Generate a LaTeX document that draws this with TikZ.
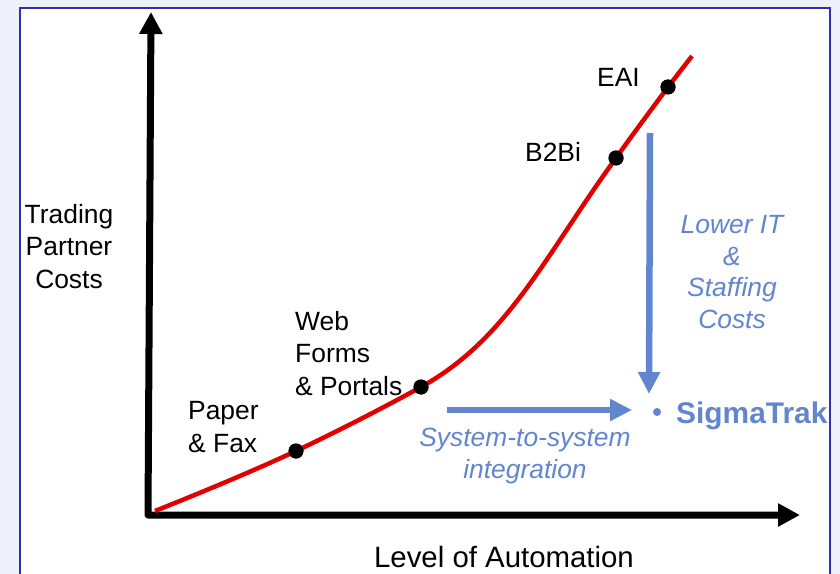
\documentclass[tikz,border=0pt]{standalone}
\usepackage{fontspec}
\setmainfont{Liberation Sans}
\usetikzlibrary{arrows.meta}
\definecolor{sigblue}{RGB}{98,134,206}
\definecolor{framebg}{RGB}{238,241,249}
\definecolor{frameblue}{RGB}{48,48,176}
\definecolor{curvered}{RGB}{224,0,0}
\begin{document}
\begin{tikzpicture}[x=1bp,y=-1bp,
  lbl/.style={font=\fontsize{26.5}{32.5}\selectfont, inner sep=0pt, text=black},
  bluelbl/.style={font=\fontsize{26.5}{31.5}\selectfont\itshape, inner sep=0pt, text=sigblue, align=center},
  dot/.style={circle, fill=black, inner sep=0pt, minimum size=15bp},
  axisline/.style={line width=7bp, line join=round, {Triangle[length=22bp,width=22bp]}-{Triangle[length=22bp,width=22bp]}},
  bluearrow/.style={sigblue, line width=6.5bp, -{Triangle[length=22bp,width=21bp]}},
  curve/.style={curvered, line width=4.5bp}]
\useasboundingbox (0,0) rectangle (840,574);
\fill[framebg] (0,0) rectangle (840,574);
\fill[white] (20,8) rectangle (830,580);
\draw[frameblue, line width=2bp] (20,580) -- (20,8) -- (830,8) -- (830,580);
\begin{scope}
\clip (21,9) rectangle (829,574);
% axes
\coordinate (ytip) at (151,12);
\coordinate (org) at (148,515);
\coordinate (xtip) at (800,515);
\draw[axisline] (ytip) -- (org) -- (xtip);
% curve
\coordinate (c0) at (155,511);
\coordinate (cend) at (692,56);
\node[dot] (pf) at (296,451) {};
\node[dot] (web) at (421,387) {};
\node[dot] (b2b) at (616,158) {};
\node[dot] (eai) at (668,87) {};
\draw[curve] (c0) .. controls (200,493) and (251,472) .. (pf.center)
  .. controls (338,431) and (383,408) .. (web.center)
  .. controls (508,339) and (545.5,255) .. (b2b.center)
  .. controls (633,134) and (651,110) .. (eai.center)
  -- (cend);
\node[dot] at (pf) {};
\node[dot] at (web) {};
\node[dot] at (b2b) {};
\node[dot] at (eai) {};
% blue arrows
\coordinate (vtop) at (650,133);
\coordinate (vtip) at (649,394);
\coordinate (hstart) at (447,410);
\coordinate (htip) at (632,410);
\draw[bluearrow] (vtop) -- (vtip);
\draw[bluearrow] (hstart) -- (htip);
\node[circle, fill=sigblue, inner sep=0pt, minimum size=8bp] (sigdot) at (657,412) {};
% labels (base anchor = baseline of last line)
\node[lbl, align=center, anchor=base] (tpc) at (69,288) {Trading\\Partner\\Costs};
\node[lbl, align=left, anchor=base west] (pflbl) at (188,452) {Paper\\\& Fax};
\node[lbl, align=left, anchor=base west] (weblbl) at (295,395) {Web\\Forms\\\& Portals};
\node[lbl, anchor=base west] (b2blbl) at (525,162) {B2Bi};
\node[lbl, anchor=base west] (eailbl) at (597,87) {EAI};
\node[bluelbl, anchor=base] (lowerit) at (732,328) {Lower IT\\\&\\Staffing\\Costs};
\node[bluelbl, anchor=base] (s2s) at (525,478) {System-to-system\\integration};
\node[inner sep=0pt, anchor=base west, text=sigblue, font=\fontsize{30}{32}\selectfont\bfseries] (sigma) at (676,423) {SigmaTrak};
\node[lbl, font=\fontsize{29.5}{32}\selectfont, anchor=base] (loa) at (504,567) {Level of Automation};
\end{scope}
\end{tikzpicture}
\end{document}
